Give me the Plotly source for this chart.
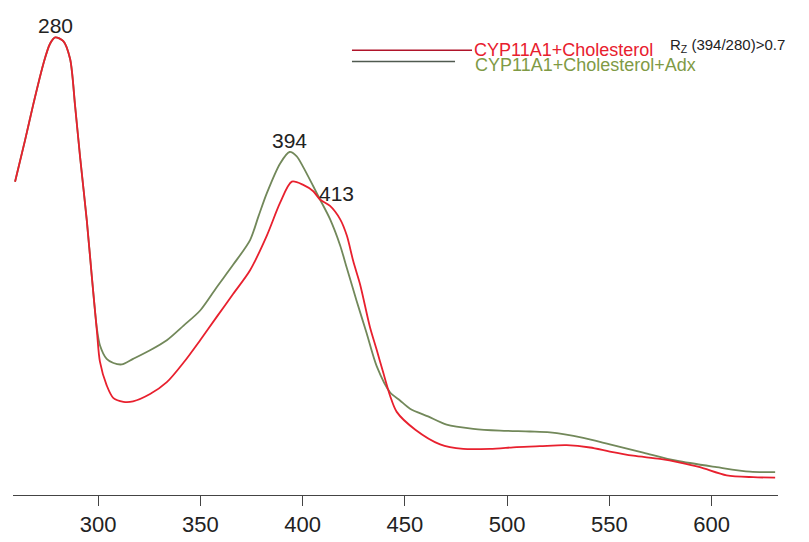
import plotly.graph_objects as go

# Wavelength (nm) and absorbance (a.u.)
red_wl = [259.4, 264.3, 268.4, 273.3, 276.5, 279.0, 283.0, 286.3, 288.8, 291.2, 294.5,
          296.9, 299.4, 300.9, 304.2, 307.5, 312.4, 317.1, 325.4, 333.6, 341.8, 349.9,
          358.0, 366.0, 374.3, 382.5, 389.0, 394.7, 400.3, 405.2, 408.5, 413.4, 418.3,
          421.6, 424.8, 428.1, 432.9, 436.2, 439.4, 442.7, 446.0, 455.1, 467.2, 478.5,
          491.6, 504.6, 516.0, 529.1, 540.5, 550.2, 561.6, 574.7, 584.5, 594.2, 607.3,
          620.3, 631.0]
red_abs = [0.686, 0.777, 0.857, 0.945, 0.988, 1.002, 0.994, 0.955, 0.850, 0.740, 0.600,
           0.480, 0.360, 0.292, 0.240, 0.212, 0.204, 0.205, 0.221, 0.247, 0.290, 0.339,
           0.390, 0.440, 0.492, 0.568, 0.640, 0.686, 0.679, 0.665, 0.647, 0.633, 0.604,
           0.568, 0.511, 0.461, 0.368, 0.318, 0.268, 0.218, 0.182, 0.143, 0.111, 0.101,
           0.101, 0.105, 0.107, 0.109, 0.104, 0.095, 0.086, 0.079, 0.071, 0.061, 0.043,
           0.039, 0.038]

green_wl = [259.4, 264.3, 268.4, 273.3, 276.5, 279.0, 283.0, 286.3, 288.8, 291.2, 294.5,
            296.9, 299.4, 300.9, 304.2, 307.5, 311.6, 317.1, 325.4, 333.6, 341.8, 349.9,
            358.0, 366.0, 374.3, 378.4, 382.5, 389.0, 393.6, 397.0, 400.3, 405.2, 408.5,
            413.4, 418.3, 421.6, 426.4, 431.3, 436.2, 442.7, 447.6, 452.5, 461.3, 470.4,
            483.4, 496.5, 511.1, 520.9, 537.2, 550.2, 566.5, 582.8, 602.4, 618.7, 631.0]
green_abs = [0.686, 0.777, 0.857, 0.945, 0.988, 1.002, 0.994, 0.955, 0.850, 0.740, 0.600,
             0.480, 0.365, 0.328, 0.298, 0.289, 0.286, 0.298, 0.317, 0.339, 0.371, 0.404,
             0.455, 0.504, 0.558, 0.610, 0.661, 0.726, 0.751, 0.742, 0.718, 0.676, 0.647,
             0.604, 0.547, 0.497, 0.425, 0.354, 0.282, 0.225, 0.207, 0.189, 0.172, 0.154,
             0.145, 0.141, 0.139, 0.137, 0.125, 0.111, 0.093, 0.075, 0.061, 0.051, 0.050]

tick_vals = [300, 350, 400, 450, 500, 550, 600]
peak_labels = ["280", "394", "413"]
peak_x = [279.0, 393.8, 416.6]
peak_y = [1.029, 0.776, 0.661]

series_names = ["CYP11A1+Cholesterol", "CYP11A1+Cholesterol+Adx"]
rz_text = "R<sub>Z</sub> (394/280)>0.7"

RED = "#e8202e"
GREEN = "#72885a"
FONT = "Liberation Sans, Arial"

fig = go.Figure()
fig.add_trace(go.Scatter(x=green_wl, y=green_abs, mode="lines", name=series_names[1],
                         line=dict(color=GREEN, width=1.8, shape="spline", smoothing=0.8),
                         showlegend=False))
fig.add_trace(go.Scatter(x=red_wl, y=red_abs, mode="lines", name=series_names[0],
                         line=dict(color=RED, width=1.8, shape="spline", smoothing=0.8),
                         showlegend=False))

for t, xx, yy in zip(peak_labels, peak_x, peak_y):
    fig.add_annotation(x=xx, y=yy, xref="x", yref="y", text=t, showarrow=False,
                       font=dict(size=21, color="#222222", family=FONT),
                       xanchor="center", yanchor="middle")

# manual legend
fig.add_shape(type="line", xref="paper", yref="paper", x0=0.4431, x1=0.600, y0=0.9361, y1=0.9361,
              line=dict(color="#b0142a", width=1.5))
fig.add_shape(type="line", xref="paper", yref="paper", x0=0.4431, x1=0.5778, y0=0.9128, y1=0.9128,
              line=dict(color="#505a50", width=1.5))
fig.add_annotation(x=0.6, y=0.9388, xref="paper", yref="paper", text=series_names[0],
                   showarrow=False, xanchor="left", yanchor="middle", height=15,
                   font=dict(size=18, color=RED, family=FONT))
fig.add_annotation(x=0.6013, y=0.9072, xref="paper", yref="paper", text=series_names[1],
                   showarrow=False, xanchor="left", yanchor="middle", height=15,
                   font=dict(size=18, color="#7f9a45", family=FONT))
fig.add_annotation(x=0.8560, y=0.947, xref="paper", yref="paper", text=rz_text,
                   showarrow=False, xanchor="left", yanchor="middle",
                   font=dict(size=15, color="#222222", family=FONT))

# page body has an 8px margin: figure is sized/offset to land on the reference pixels
fig.update_layout(
    width=801, height=534,
    margin=dict(l=5, r=31, t=12, b=37),
    paper_bgcolor="white", plot_bgcolor="white",
    showlegend=False,
    xaxis=dict(range=[258.4, 632.4], tickvals=tick_vals, ticks="outside", ticklen=10,
               tickcolor="#444444", tickwidth=1, showline=True, linecolor="#444444",
               linewidth=1, showgrid=False, zeroline=False,
               tickfont=dict(size=22, color="#222222", family=FONT)),
    yaxis=dict(range=[0, 1.04], visible=False, showgrid=False, zeroline=False),
)

fig.write_html("out.html")
